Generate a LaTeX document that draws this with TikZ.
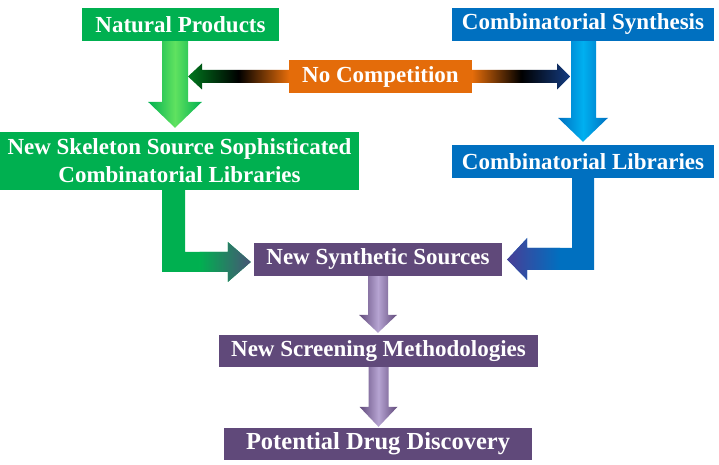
\documentclass[tikz,border=0pt]{standalone}
\usepackage{fontspec}
\setmainfont{Liberation Serif}
\usetikzlibrary{calc}
\definecolor{cgreen}{RGB}{0,176,80}
\definecolor{cgreenlt}{RGB}{96,226,96}
\definecolor{cgreendk}{RGB}{0,120,30}
\definecolor{cblue}{RGB}{0,112,192}
\definecolor{cbluelt}{RGB}{0,176,240}
\definecolor{cbluedk}{RGB}{20,60,130}
\definecolor{corange}{RGB}{228,108,10}
\definecolor{cpurple}{RGB}{96,73,122}
\definecolor{cpurplelt}{RGB}{182,164,210}
\definecolor{cslate}{RGB}{72,84,118}
\definecolor{cindigo}{RGB}{72,62,150}
\tikzset{
  box/.style={inner sep=0pt, text=white, align=center,
    font=\fontsize{23}{28}\selectfont\bfseries},
  gbox/.style={box, fill=cgreen},
  bbox/.style={box, fill=cblue},
  obox/.style={box, fill=corange},
  pbox/.style={box, fill=cpurple},
}
\begin{document}
\begin{tikzpicture}[x=1pt,y=1pt]
\useasboundingbox (0,0) rectangle (719,465);
% nodes
\node[gbox, minimum width=197pt, minimum height=33pt] (np) at (180.5,440.5) {Natural Products};
\node[bbox, minimum width=262pt, minimum height=33pt] (cs) at (583,440.5) {Combinatorial Synthesis};
\node[obox, minimum width=183pt, minimum height=33pt] (nc) at (380.5,388.5) {No Competition};
\node[gbox, minimum width=359pt, minimum height=58pt] (sk) at (179.5,304) {New Skeleton Source Sophisticated\\Combinatorial Libraries};
\node[bbox, minimum width=262pt, minimum height=33pt] (cl) at (583,303.5) {Combinatorial Libraries};
\node[pbox, minimum width=248pt, minimum height=33pt] (ss) at (378,205.5) {New Synthetic Sources};
\node[pbox, minimum width=319pt, minimum height=32pt] (sm) at (378.5,114) {New Screening Methodologies};
\node[pbox, minimum width=308pt, minimum height=32pt] (dd) at (378,21) {\fontsize{24.5}{28}\selectfont Potential Drug Discovery};

% green vertical arrow
\shade[left color=cgreen, right color=cgreen, middle color=cgreenlt]
  let \p1=(np.south), \p2=(sk.north) in
  (\x1-18.5pt,\y1) -- (\x1+7.5pt,\y1) -- (\x1+7.5pt,\y2+30pt) -- (\x1+21.5pt,\y2+30pt)
  -- (\x1-5.5pt,\y2+4pt) -- (\x1-32.5pt,\y2+30pt) -- (\x1-18.5pt,\y2+30pt) -- cycle;
% blue vertical arrow
\shade[left color=cblue, right color=cblue, middle color=cbluelt]
  let \p1=(cs.south), \p2=(cl.north) in
  (\x1-12pt,\y1) -- (\x1+13pt,\y1) -- (\x1+13pt,\y2+27pt) -- (\x1+25pt,\y2+27pt)
  -- (\x1,\y2+3pt) -- (\x1-25pt,\y2+27pt) -- (\x1-12pt,\y2+27pt) -- cycle;
% no competition arrows
\shade[left color=cgreendk, right color=corange, middle color=black]
  let \p1=(nc.west), \p2=(np.south) in
  (\x1,\y1+6.5pt) -- (\x2+21.5pt,\y1+6.5pt) -- (\x2+21.5pt,\y1+13pt) -- (\x2+7.5pt,\y1)
  -- (\x2+21.5pt,\y1-13pt) -- (\x2+21.5pt,\y1-6.5pt) -- (\x1,\y1-6.5pt) -- cycle;
\shade[left color=corange, right color=cbluedk, middle color=black]
  let \p1=(nc.east), \p2=(cs.south) in
  (\x1,\y1+6.5pt) -- (\x2-26pt,\y1+6.5pt) -- (\x2-26pt,\y1+13pt) -- (\x2-13pt,\y1)
  -- (\x2-26pt,\y1-13pt) -- (\x2-26pt,\y1-6.5pt) -- (\x1,\y1-6.5pt) -- cycle;
% green L arrow
\fill[cgreen]
  let \p1=(sk.south), \p2=(ss.west) in
  (\x1-17.5pt,\y1) -- (\x1+5.5pt,\y1) -- (\x1+5.5pt,\y2+7.5pt) -- (\x2-26pt,\y2+7.5pt)
  -- (\x2-26pt,\y2+17.5pt) -- (\x2-3pt,\y2-2.5pt) -- (\x2-26pt,\y2-22.5pt)
  -- (\x2-26pt,\y2-12.5pt) -- (\x1-17.5pt,\y2-12.5pt) -- cycle;
\shade[left color=cgreen, right color=cslate]
  let \p1=(sk.south), \p2=(ss.west) in
  (\x1+20pt,\y2+7.5pt) -- (\x2-26pt,\y2+7.5pt)
  -- (\x2-26pt,\y2+17.5pt) -- (\x2-3pt,\y2-2.5pt) -- (\x2-26pt,\y2-22.5pt)
  -- (\x2-26pt,\y2-12.5pt) -- (\x1+20pt,\y2-12.5pt) -- cycle;
% blue L arrow
\fill[cblue]
  let \p1=(cl.south), \p2=(ss.east) in
  (\x1+11pt,\y1) -- (\x1-11pt,\y1) -- (\x1-11pt,\y2+11.5pt) -- (\x2+25pt,\y2+11.5pt)
  -- (\x2+25pt,\y2+21.5pt) -- (\x2+5pt,\y2) -- (\x2+25pt,\y2-20.5pt)
  -- (\x2+25pt,\y2-10.5pt) -- (\x1+11pt,\y2-10.5pt) -- cycle;
\shade[left color=cindigo, right color=cblue]
  let \p1=(cl.south), \p2=(ss.east) in
  (\x1-23pt,\y2+11.5pt) -- (\x2+25pt,\y2+11.5pt)
  -- (\x2+25pt,\y2+21.5pt) -- (\x2+5pt,\y2) -- (\x2+25pt,\y2-20.5pt)
  -- (\x2+25pt,\y2-10.5pt) -- (\x1-23pt,\y2-10.5pt) -- cycle;
% purple arrows
\shade[left color=cpurple, right color=cpurple, middle color=cpurplelt]
  let \p1=(ss.south), \p2=(sm.north) in
  (\x1-10pt,\y1) -- (\x1+10pt,\y1) -- (\x1+10pt,\y2+20pt) -- (\x1+19pt,\y2+20pt)
  -- (\x1,\y2+2pt) -- (\x1-19pt,\y2+20pt) -- (\x1-10pt,\y2+20pt) -- cycle;
\shade[left color=cpurple, right color=cpurple, middle color=cpurplelt]
  let \p1=(sm.south), \p2=(dd.north) in
  (\x1-10pt,\y1) -- (\x1+10pt,\y1) -- (\x1+10pt,\y2+21pt) -- (\x1+19pt,\y2+21pt)
  -- (\x1,\y2+1pt) -- (\x1-19pt,\y2+21pt) -- (\x1-10pt,\y2+21pt) -- cycle;
\end{tikzpicture}
\end{document}
